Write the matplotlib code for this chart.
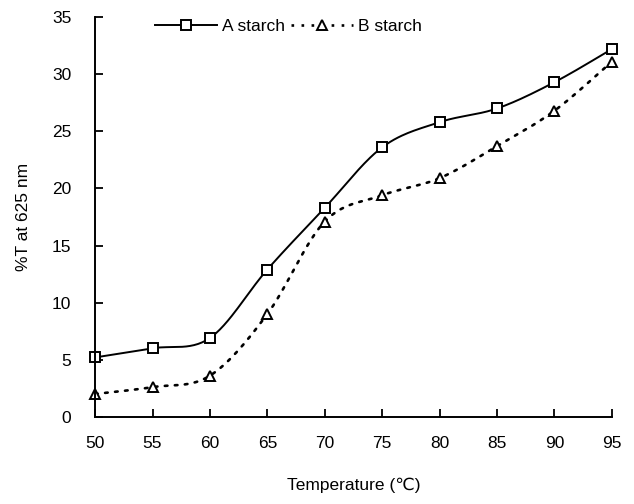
import numpy as np
import matplotlib
matplotlib.use("Agg")
import matplotlib.pyplot as plt
from matplotlib.lines import Line2D

plt.rcParams['font.family'] = ['Liberation Sans', 'DejaVu Sans']

temperature = [50, 55, 60, 65, 70, 75, 80, 85, 90, 95]
a_starch = [5.2, 6.0, 6.9, 12.9, 18.3, 23.6, 25.8, 27.0, 29.3, 32.2]
b_starch = [2.0, 2.6, 3.6, 9.0, 17.1, 19.4, 20.9, 23.7, 26.8, 31.1]
x_ticks = [50, 55, 60, 65, 70, 75, 80, 85, 90, 95]
y_ticks = [0, 5, 10, 15, 20, 25, 30, 35]


def smooth_path(x, y, n=30):
    # Excel-like smoothed line via cardinal Bezier segments
    x = np.asarray(x, float); y = np.asarray(y, float)
    px = np.concatenate([[x[0]], x, [x[-1]]])
    py = np.concatenate([[y[0]], y, [y[-1]]])
    xs, ys = [], []
    t = np.linspace(0, 1, n)
    for i in range(1, len(px) - 2):
        p0 = np.array([px[i], py[i]]); p3 = np.array([px[i + 1], py[i + 1]])
        c1 = p0 + (np.array([px[i + 1], py[i + 1]]) - np.array([px[i - 1], py[i - 1]])) / 6
        c2 = p3 - (np.array([px[i + 2], py[i + 2]]) - np.array([px[i], py[i]])) / 6
        b = ((1 - t) ** 3)[:, None] * p0 + (3 * (1 - t) ** 2 * t)[:, None] * c1 + \
            (3 * (1 - t) * t ** 2)[:, None] * c2 + (t ** 3)[:, None] * p3
        xs.extend(b[:, 0]); ys.extend(b[:, 1])
    return xs, ys


fig = plt.figure(figsize=(6.34, 5.04), dpi=100)
ax = fig.add_axes([0.15, 0.173, 0.815, 0.793])

xa, ya = smooth_path(temperature, a_starch)
xb, yb = smooth_path(temperature, b_starch)
ax.plot(xa, ya, color='black', lw=1.4, solid_capstyle='round')
ax.plot(xb, yb, color='black', lw=1.9, linestyle=(0, (1, 2.8)), dash_capstyle='round')
ax.plot(temperature, a_starch, linestyle='none', marker='s', ms=7.5, mfc='white', mec='black', mew=1.4, clip_on=False)
ax.plot(temperature, b_starch, linestyle='none', marker='^', ms=7, mfc='white', mec='black', mew=1.4, clip_on=False)

ax.set_xlim(50, 95)
ax.set_ylim(0, 35)
ax.set_xticks(x_ticks)
ax.set_yticks(y_ticks)
ax.tick_params(direction='in', length=6, width=1.3, labelsize=12.5)
ax.tick_params(axis='y', pad=17)
ax.tick_params(axis='x', pad=14)
for s in ['top', 'right']:
    ax.spines[s].set_visible(False)
for s in ['left', 'bottom']:
    ax.spines[s].set_linewidth(1.4)

ax.set_xlabel('Temperature (℃)', fontsize=12.5, labelpad=19)
ax.set_ylabel('%T at 625 nm', fontsize=12.5, labelpad=15)

handles = [
    Line2D([], [], color='black', lw=1.4, marker='s', ms=7, mfc='white', mec='black', mew=1.4),
    Line2D([], [], color='black', lw=1.9, linestyle=(0, (1, 2.8)), marker='^', ms=6.5, mfc='white', mec='black', mew=1.4),
]
ax.legend(handles, ['A starch', 'B starch'], loc='upper left', bbox_to_anchor=(0.085, 1.035),
          ncol=2, frameon=False, fontsize=12.5, handlelength=3.6, columnspacing=0.3, handletextpad=0.3)

fig.savefig('out.png', dpi=100)
